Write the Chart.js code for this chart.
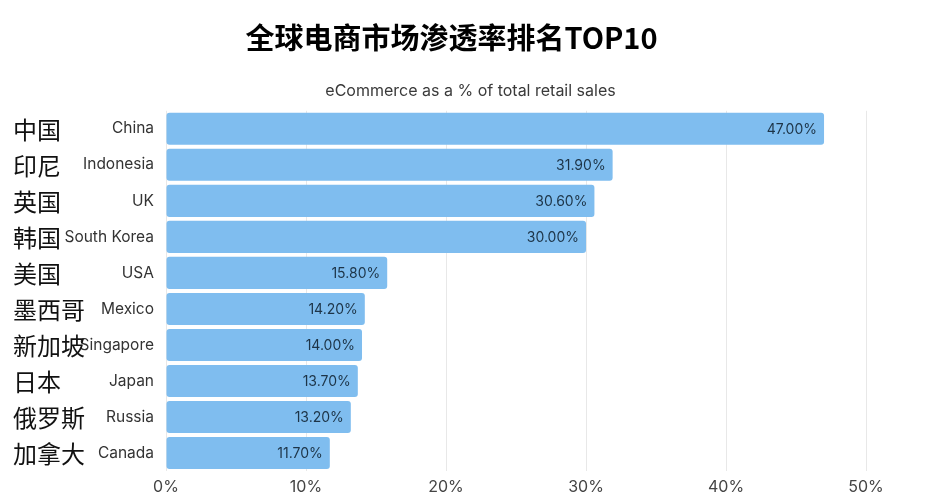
<!DOCTYPE html>
<html>
<head>
<meta charset="utf-8">
<script src="https://cdn.jsdelivr.net/npm/chart.js@4"></script>
<style>
	body { margin: 0; background: #fff; }
	#wrap { width: 941px; height: 500px; position: relative; }
</style>
</head>
<body>
<div id="wrap"><canvas id="chart"></canvas></div>
<script>
const countries = ['China', 'Indonesia', 'UK', 'South Korea', 'USA', 'Mexico', 'Singapore', 'Japan', 'Russia', 'Canada'];
const countriesZh = ['中国', '印尼', '英国', '韩国', '美国', '墨西哥', '新加坡', '日本', '俄罗斯', '加拿大'];
const shares = [47.0, 31.9, 30.6, 30.0, 15.8, 14.2, 14.0, 13.7, 13.2, 11.7];
const xTicks = [0, 10, 20, 30, 40, 50];
const subtitleText = 'eCommerce as a % of total retail sales';

// value text at the right end of each bar
const barLabels = {
	id: 'barLabels',
	afterDatasetsDraw(chart){
		const ctx = chart.ctx;
		const meta = chart.getDatasetMeta(0);
		ctx.save();
		ctx.font = '14px Inter, "Noto Sans", sans-serif';
		ctx.fillStyle = '#1d3447';
		ctx.textAlign = 'right';
		ctx.textBaseline = 'middle';
		meta.data.forEach((bar, i) => {
			ctx.fillText(shares[i].toFixed(2) + '%', bar.x - 7, bar.y + 1);
		});
		ctx.restore();
	}
};

// chinese names down the left edge + subtitle centred on the page
const extraText = {
	id: 'extraText',
	afterDraw(chart){
		const ctx = chart.ctx;
		const y = chart.scales.y;
		ctx.save();
		ctx.font = '24px "Noto Sans CJK SC", sans-serif';
		ctx.fillStyle = '#111';
		ctx.textAlign = 'left';
		ctx.textBaseline = 'middle';
		countriesZh.forEach((name, i) => {
			ctx.fillText(name, 13, y.getPixelForValue(i) + 1);
		});
		ctx.font = '16px Inter, sans-serif';
		ctx.fillStyle = '#3a3a3a';
		ctx.textAlign = 'center';
		ctx.fillText(subtitleText, chart.width / 2, 91);
		ctx.restore();
	}
};

new Chart(document.getElementById('chart'), {
	type: 'bar',
	data: {
		labels: countries,
		datasets: [{
			data: shares,
			backgroundColor: '#7fbdef',
			borderRadius: 3,
			borderSkipped: false,
			barPercentage: 0.89,
			categoryPercentage: 1.0
		}]
	},
	options: {
		indexAxis: 'y',
		responsive: true,
		maintainAspectRatio: false,
		animation: false,
		layout: { padding: { left: 0, right: 38, top: 0, bottom: 0 } },
		scales: {
			x: {
				min: 0, max: 52.64,
				afterBuildTicks: (axis) => { axis.ticks = xTicks.map(v => ({ value: v })); },
				afterFit: (axis) => { axis.height = 29; },
				grid: { color: '#e8e8e8', drawTicks: false },
				border: { display: false },
				ticks: { color: '#444', padding: 7, font: { family: 'Inter', size: 16 }, callback: v => v + '%' }
			},
			y: {
				grid: { display: false, drawTicks: false },
				border: { display: false },
				afterFit: (axis) => { axis.width = 166; },
				ticks: { color: '#333', padding: 12, font: { family: 'Inter', size: 15.5 } }
			}
		},
		plugins: {
			legend: { display: false },
			tooltip: { enabled: false },
			title: {
				display: true,
				text: '全球电商市场渗透率排名TOP10',
				color: '#000',
				font: { family: '"Noto Sans CJK SC"', size: 29, weight: 'bold' },
				padding: { top: 21, bottom: 55 }
			}
		}
	},
	plugins: [barLabels, extraText]
});
</script>
</body>
</html>
